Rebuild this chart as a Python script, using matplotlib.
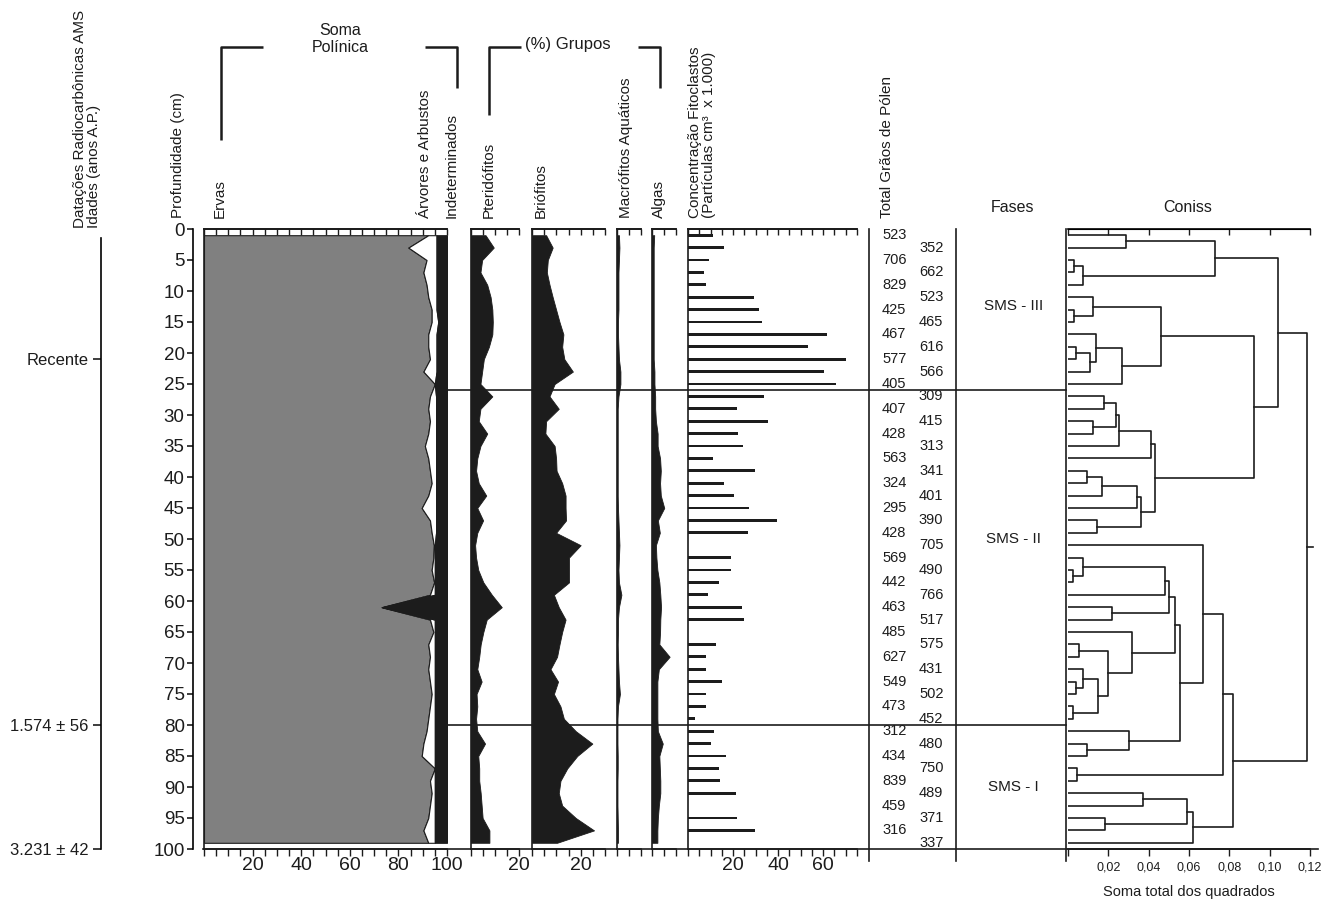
import numpy as np
import matplotlib
matplotlib.use("Agg")
import matplotlib.pyplot as plt
from matplotlib.lines import Line2D
from matplotlib.transforms import blended_transform_factory

plt.rcParams['font.family'] = ['Liberation Sans', 'DejaVu Sans']

# ---------------------------------------------------------------- data
depths = [1, 3, 5, 7, 9, 11, 13, 15, 17, 19, 21, 23, 25, 27, 29, 31, 33, 35, 37, 39,
          41, 43, 45, 47, 49, 51, 53, 55, 57, 59, 61, 63, 65, 67, 69, 71, 73, 75, 77, 79,
          81, 83, 85, 87, 89, 91, 93, 95, 97, 99]

# Soma polínica (%): herbs, trees/shrubs, undetermined
ervas = [92.3, 84.1, 91.6, 90.3, 91.6, 92.3, 93.7, 93.7, 92.3, 92.3, 93.0, 90.3, 95.0,
         93.0, 92.3, 93.0, 92.3, 90.9, 92.3, 93.0, 93.7, 92.3, 89.6, 93.0, 93.7, 94.6,
         94.4, 93.7, 94.7, 93.0, 73.1, 93.0, 94.4, 92.3, 93.0, 92.3, 93.0, 93.7, 93.0,
         92.3, 91.6, 90.3, 89.6, 95.0, 93.0, 93.7, 93.0, 92.3, 90.3, 92.3]
arvores = [3.4, 11.6, 4.1, 5.4, 4.1, 3.4, 2.0, 2.7, 3.4, 3.4, 2.7, 5.4, 0.0, 2.5, 3.2,
           2.5, 3.2, 4.6, 3.2, 2.5, 1.8, 3.2, 5.9, 2.5, 1.8, 0.4, 0.6, 1.3, 0.3, 2.0,
           0.4, 2.0, 0.6, 2.7, 2.0, 2.7, 2.0, 1.3, 2.0, 2.7, 3.4, 4.7, 5.4, 0.0, 2.0,
           1.3, 2.0, 2.7, 4.7, 2.7]
indeterminados = [4.3, 4.3, 4.3, 4.3, 4.3, 4.3, 4.3, 3.6, 4.3, 4.3, 4.3, 4.3, 5.0, 4.5,
                  4.5, 4.5, 4.5, 4.5, 4.5, 4.5, 4.5, 4.5, 4.5, 4.5, 4.5, 5.0, 5.0, 5.0,
                  5.0, 5.0, 26.5, 5.0, 5.0, 5.0, 5.0, 5.0, 5.0, 5.0, 5.0, 5.0, 5.0, 5.0,
                  5.0, 5.0, 5.0, 5.0, 5.0, 5.0, 5.0, 5.0]

# (%) Grupos
pteridofitos = [6.2, 9.6, 4.8, 4.1, 6.9, 8.3, 9.0, 9.2, 9.0, 7.6, 5.5, 4.8, 4.1, 9.0,
                4.1, 3.4, 6.9, 4.1, 2.8, 2.3, 3.4, 6.5, 2.8, 5.2, 2.8, 1.9, 2.3, 3.2,
                5.3, 8.8, 12.9, 6.7, 5.3, 4.2, 3.6, 2.8, 4.6, 2.5, 2.8, 2.3, 2.8, 6.0,
                3.2, 3.6, 3.6, 4.2, 4.6, 5.0, 7.8, 7.8]
briofitos = [5.8, 8.5, 6.5, 6.1, 7.2, 8.5, 9.9, 11.3, 12.9, 12.4, 13.3, 16.8, 9.3, 7.2,
             11.0, 5.8, 5.5, 9.3, 9.9, 10.1, 12.4, 13.8, 13.8, 14.0, 9.9, 20.0, 15.2,
             15.2, 15.2, 9.0, 11.0, 13.8, 12.4, 11.3, 10.3, 7.6, 10.7, 9.0, 11.7, 13.1,
             18.0, 24.8, 18.6, 14.5, 11.7, 11.0, 12.4, 18.0, 25.5, 10.3]
macrofitos = [1.0, 1.2, 1.0, 0.8, 0.8, 0.8, 0.8, 0.6, 0.6, 0.8, 1.0, 1.6, 1.6, 0.8, 0.5,
              0.5, 0.5, 0.5, 0.5, 0.5, 0.5, 0.5, 0.6, 0.8, 1.0, 1.2, 1.0, 0.8, 1.0, 2.0,
              1.0, 0.6, 0.6, 0.5, 0.6, 0.8, 1.0, 1.4, 0.6, 0.4, 0.4, 0.4, 0.5, 0.5, 0.4,
              0.4, 0.4, 0.5, 0.6, 0.6]
algas = [1.1, 0.9, 0.9, 0.9, 0.9, 0.9, 0.9, 0.9, 0.9, 0.9, 0.9, 1.2, 1.2, 1.5, 1.5, 1.8,
         2.5, 2.5, 3.5, 3.8, 3.5, 3.8, 5.2, 2.6, 3.4, 1.8, 2.0, 2.4, 3.2, 3.6, 3.9, 3.6,
         3.5, 3.2, 7.4, 3.0, 2.4, 2.4, 2.4, 2.4, 2.6, 4.6, 3.2, 3.4, 3.6, 3.6, 3.0, 2.6,
         2.4, 2.4]

# Concentração de fitoclastos (partículas cm-3 x 1.000)
fitoclastos = [11.0, 16.1, 9.5, 7.1, 8.0, 29.3, 31.3, 32.7, 61.9, 53.3, 70.1, 60.4, 65.5,
               33.9, 21.6, 35.3, 22.1, 24.6, 11.0, 29.8, 16.1, 20.4, 27.0, 39.7, 26.8, 0.0,
               19.0, 19.0, 13.9, 8.9, 23.9, 24.7, 0.0, 12.4, 8.1, 8.1, 15.3, 8.0, 8.0, 3.3,
               11.7, 10.2, 17.0, 13.6, 14.1, 21.5, 0.0, 21.9, 29.6, 0.0]

# Total de grãos de pólen contados por amostra
total_polen = [523, 352, 706, 662, 829, 523, 425, 465, 467, 616, 577, 566, 405, 309, 407,
               415, 428, 313, 563, 341, 324, 401, 295, 390, 428, 705, 569, 490, 442, 766,
               463, 517, 485, 575, 627, 431, 549, 502, 473, 452, 312, 480, 434, 750, 839,
               489, 459, 371, 316, 337]

# Datações
datacao_depths = [21, 80, 100]
datacao_labels = ['Recente', '1.574 ± 56', '3.231 ± 42']

# Fases
fase_limites = [26, 80]
fase_labels = ['SMS - III', 'SMS - II', 'SMS - I']
fase_label_depths = [12.5, 50, 90]

# CONISS: (node a, node b, height); leaves 0..49, new nodes numbered from 50
coniss_merges = [
    (2, 3, 0.003), (50, 4, 0.0075), (0, 1, 0.029), (52, 51, 0.073),
    (6, 7, 0.003), (5, 54, 0.0126), (9, 10, 0.004), (56, 11, 0.011),
    (8, 57, 0.014), (58, 12, 0.027), (55, 59, 0.046), (13, 14, 0.018),
    (15, 16, 0.0126), (61, 62, 0.024), (63, 17, 0.0255), (64, 18, 0.041),
    (19, 20, 0.0093), (66, 21, 0.0167), (67, 22, 0.034), (23, 24, 0.0146),
    (68, 69, 0.036), (65, 70, 0.043), (60, 71, 0.092), (53, 72, 0.104),
    (27, 28, 0.0026), (26, 74, 0.0073), (75, 29, 0.048), (30, 31, 0.0217),
    (76, 77, 0.050), (33, 34, 0.0056), (36, 37, 0.004), (35, 80, 0.0076),
    (38, 39, 0.0026), (81, 82, 0.015), (79, 83, 0.020), (32, 84, 0.0316),
    (78, 85, 0.053), (41, 42, 0.0096), (40, 87, 0.030), (86, 88, 0.0556),
    (25, 89, 0.067), (43, 44, 0.0043), (90, 91, 0.0768), (45, 46, 0.037),
    (47, 48, 0.0184), (93, 94, 0.059), (95, 49, 0.062), (92, 96, 0.082),
    (73, 97, 0.1185),
]

# ---------------------------------------------------------------- layout
INK = '#1c1c1c'
GRAY = '#808080'
W, H = 1335, 900
TOP, BOT = 229, 849

fig = plt.figure(figsize=(W / 100, H / 100), dpi=100)
fig.patch.set_facecolor('white')

dep = np.array(depths, dtype=float)


def frame(x0, x1, y0=TOP, y1=BOT):
    return fig.add_axes([x0 / W, 1 - y1 / H, (x1 - x0) / W, (y1 - y0) / H])


def ftext(x, y, s, **kw):
    kw.setdefault('color', INK)
    return fig.text(x / W, 1 - y / H, s, **kw)


def fline(xs, ys, lw=1.8):
    fig.add_artist(Line2D([x / W for x in xs], [1 - y / H for y in ys],
                          color=INK, lw=lw, solid_capstyle='butt'))


def panel(x0, x1, xmax, step, labelled):
    ax = frame(x0, x1)
    ax.set_xlim(0, xmax)
    ax.set_ylim(100, 0)
    ax.patch.set_alpha(0)
    ax.spines['right'].set_visible(False)
    for s in ('left', 'top', 'bottom'):
        ax.spines[s].set_linewidth(1.2)
        ax.spines[s].set_color(INK)
    ax.set_yticks([])
    ticks = np.arange(0, xmax + 1e-9, step)
    ax.set_xticks(ticks)
    ax.set_xticklabels([f'{t:g}' if round(t, 6) in labelled else '' for t in ticks])
    ax.tick_params(axis='x', direction='out', length=5, width=1, pad=1,
                   labelsize=14, colors=INK)
    top = ax.secondary_xaxis('top')
    top.set_xticks(ticks)
    top.set_xticklabels([])
    top.tick_params(direction='in', length=4, width=1, colors=INK)
    top.spines['top'].set_linewidth(1.2)
    return ax


# Depth axis
ax_d = frame(193, 200)
ax_d.set_ylim(100, 0)
ax_d.set_xticks([])
for s in ('right', 'top', 'bottom'):
    ax_d.spines[s].set_visible(False)
ax_d.spines['left'].set_linewidth(1.2)
ax_d.set_yticks(np.arange(0, 101, 5))
ax_d.tick_params(axis='y', direction='out', length=4, width=1.2, pad=2,
                 labelsize=13.5, colors=INK)
ax_d.patch.set_alpha(0)

# Dating axis
ax_t = frame(101, 108)
ax_t.set_ylim(100, 0)
ax_t.set_xticks([])
for s in ('right', 'top', 'bottom'):
    ax_t.spines[s].set_visible(False)
ax_t.spines['left'].set_bounds(1.5, 100)
ax_t.spines['left'].set_linewidth(1.2)
ax_t.set_yticks(datacao_depths)
ax_t.set_yticklabels(datacao_labels)
ax_t.tick_params(axis='y', direction='out', length=6, width=1.2, pad=3,
                 labelsize=12, colors=INK)
ax_t.patch.set_alpha(0)

# Soma polínica (cumulative)
erv = np.array(ervas)
arv = erv + np.array(arvores)
ax_e = panel(204, 447, 100, 5, {20, 40, 60, 80, 100})
ax_e.fill_betweenx(dep, 0, erv, facecolor=GRAY, edgecolor=INK, lw=0.8)
ax_e.fill_betweenx(dep, erv, arv, facecolor='white', edgecolor=INK, lw=0.8)
ax_e.fill_betweenx(dep, arv, arv + np.array(indeterminados), facecolor=INK,
                   edgecolor=INK, lw=0.8)

# Group curves
for (x0, x1, xmax, vals, lab) in [(470.5, 519, 20, pteridofitos, {20}),
                                  (532, 605, 30, briofitos, {20}),
                                  (616.5, 641, 10, macrofitos, set()),
                                  (651.5, 676, 10, algas, set())]:
    a = panel(x0, x1, xmax, 5, lab)
    a.fill_betweenx(dep, 0, vals, facecolor=INK, edgecolor=INK, lw=0.6)

# Phytoclast concentration bars
ax_c = panel(688, 857, 75, 5, {20, 40, 60})
ax_c.barh(dep, fitoclastos, height=0.45, color=INK)

# Pollen totals
ax_n = frame(869, 956)
ax_n.set_xlim(0, 1)
ax_n.set_ylim(100, 0)
ax_n.axis('off')
for i, (d, n) in enumerate(zip(depths, total_polen)):
    ax_n.text(0.29 if i % 2 == 0 else 0.715, d, str(n), ha='center', va='center',
              fontsize=10.5, color=INK)

# Phases
ax_f = frame(956, 1066)
ax_f.set_xlim(0, 1)
ax_f.set_ylim(100, 0)
ax_f.axis('off')
for d, lab in zip(fase_label_depths, fase_labels):
    ax_f.text(0.52, d, lab, ha='center', va='center', fontsize=11, color=INK)

# CONISS dendrogram
ax_k = frame(1068, 1310)
ax_k.set_xlim(0, 0.12)
ax_k.set_ylim(100, 0)
ax_k.patch.set_alpha(0)
ax_k.spines['right'].set_visible(False)
ax_k.spines['left'].set_visible(False)
for s in ('top', 'bottom'):
    ax_k.spines[s].set_linewidth(1.2)
ax_k.set_yticks([])
kt = np.arange(0, 0.1201, 0.02)
ax_k.set_xticks(kt)
ax_k.set_xticklabels([''] + [f'{t:.2f}'.replace('.', ',') for t in kt[1:]])
ax_k.tick_params(axis='x', direction='out', length=5, width=1, pad=4,
                 labelsize=9, colors=INK)
ax_k.set_xlabel('Soma total dos quadrados', fontsize=10.5, labelpad=8, color=INK)
kt_top = ax_k.secondary_xaxis('top')
kt_top.set_xticks(kt)
kt_top.set_xticklabels([])
kt_top.tick_params(direction='in', length=4, width=1, colors=INK)

pos = {k: (0.0, d) for k, d in enumerate(depths)}
for i, (a, b, h) in enumerate(coniss_merges):
    xa, ya = pos[a]
    xb, yb = pos[b]
    ax_k.plot([xa, h, h, xb], [ya, ya, yb, yb], color=INK, lw=1.2)
    pos[len(depths) + i] = (h, (ya + yb) / 2)
rx, ry = pos[len(depths) + len(coniss_merges) - 1]
ax_k.plot([rx, 0.1215], [ry, ry], color=INK, lw=1.2, clip_on=False)

# Shared lines in depth units
bt = blended_transform_factory(fig.transFigure, ax_d.transData)
for d in fase_limites:
    fig.add_artist(Line2D([447 / W, 1066 / W], [d, d], transform=bt, color=INK, lw=1.2))
fig.add_artist(Line2D([203 / W, 1318 / W], [100, 100], transform=bt, color=INK, lw=1.2))
for x in (869, 956, 1066):
    fig.add_artist(Line2D([x / W, x / W], [0, 102], transform=bt, color=INK, lw=1.2))

# ---------------------------------------------------------------- headers
ftext(87, 228, 'Datações Radiocarbônicas AMS\nIdades (anos A.P.)', rotation=90,
      ha='center', va='bottom', fontsize=11, multialignment='left', linespacing=1.0)
for x, s in [(178, 'Profundidade (cm)'), (220, 'Ervas'), (425, 'Árvores e Arbustos'),
             (452, 'Indeterminados'), (489, 'Pteridófitos'), (541, 'Briófitos'),
             (626, 'Macrófitos Aquáticos'), (659, 'Algas'),
             (887, 'Total Grãos de Pólen')]:
    ftext(x, 218, s, rotation=90, ha='center', va='bottom', fontsize=11)
ftext(702, 218, 'Concentração Fitoclastos\n(Partículas cm³  x 1.000)', rotation=90,
      ha='center', va='bottom', fontsize=11, multialignment='left', linespacing=1.0)
ftext(1012, 208, 'Fases', ha='center', va='center', fontsize=11.5)
ftext(1188, 208, 'Coniss', ha='center', va='center', fontsize=11.5)

ftext(340, 39, 'Soma\nPolínica', ha='center', va='center', fontsize=11.5,
      linespacing=1.15)
ftext(568, 45, '(%) Grupos', ha='center', va='center', fontsize=12)

# brackets
fline([221, 221, 263], [140, 47, 47])
fline([425, 457, 457], [47, 47, 88])
fline([489, 489, 521], [115, 47, 47])
fline([638, 660, 660], [47, 47, 88])

fig.savefig('out.png', dpi=100, facecolor='white')
